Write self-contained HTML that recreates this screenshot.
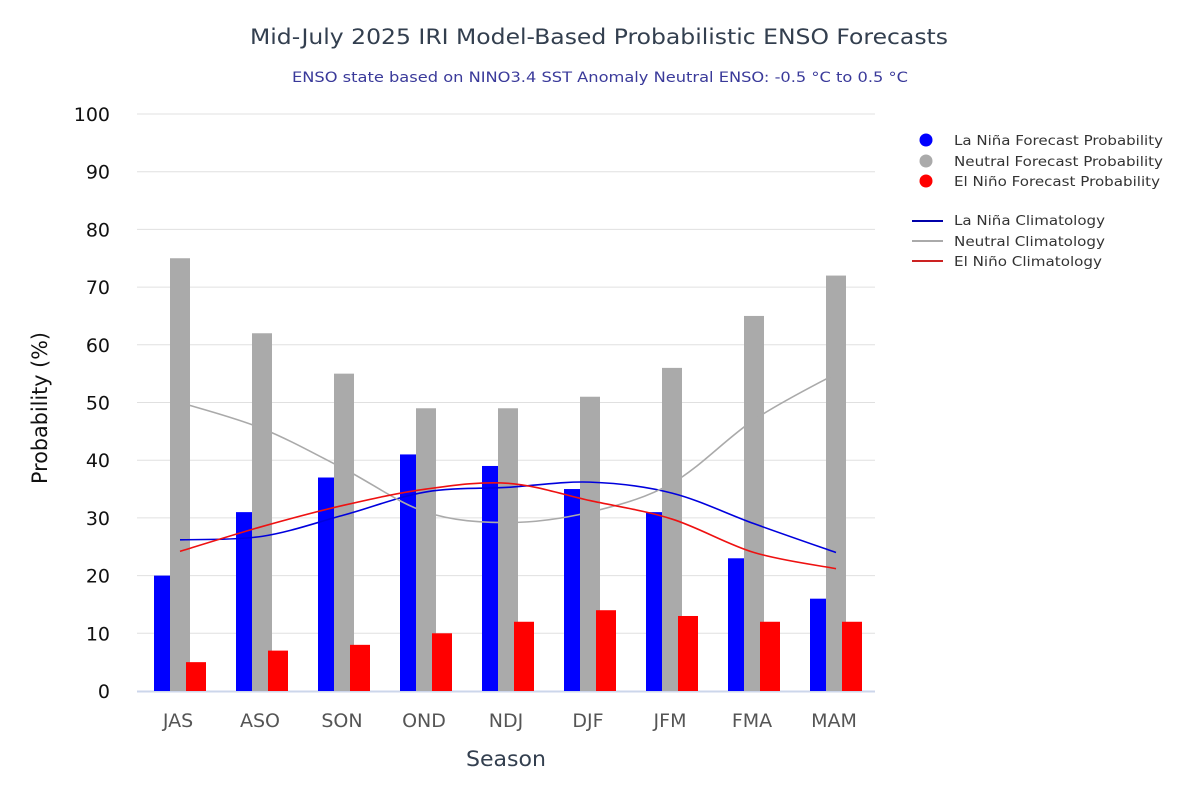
<!DOCTYPE html>
<html><head><meta charset="utf-8"><style>
body{margin:0;background:#fff;}
svg{display:block;font-family:"DejaVu Sans","Liberation Sans",sans-serif;}
</style></head><body>
<svg id="s" width="1200" height="800" viewBox="0 0 1200 800" xmlns="http://www.w3.org/2000/svg">
<rect width="1200" height="800" fill="#fff"/>
<text x="250" y="44" font-size="21" fill="#333f4f" textLength="698" lengthAdjust="spacingAndGlyphs">Mid-July 2025 IRI Model-Based Probabilistic ENSO Forecasts</text>
<text x="292" y="82" font-size="14" fill="#3a3a9a" textLength="616" lengthAdjust="spacingAndGlyphs">ENSO state based on NINO3.4 SST Anomaly Neutral ENSO: -0.5 °C to 0.5 °C</text>
<g id="grid"></g>
<g id="bars"></g>
<g id="lines"></g>
<text transform="translate(47,484) rotate(-90)" font-size="21" fill="#111" textLength="152" lengthAdjust="spacingAndGlyphs">Probability (%)</text>
<text x="466" y="766" font-size="21" fill="#333f4f" textLength="80" lengthAdjust="spacingAndGlyphs">Season</text>
<g font-size="13" fill="#333">
<circle cx="926" cy="140" r="6.5" fill="#0000ff"/><text x="954" y="145" textLength="209" lengthAdjust="spacingAndGlyphs">La Niña Forecast Probability</text>
<circle cx="926" cy="161" r="6.5" fill="#aaaaaa"/><text x="954" y="166" textLength="209" lengthAdjust="spacingAndGlyphs">Neutral Forecast Probability</text>
<circle cx="926" cy="181" r="6.5" fill="#ff0000"/><text x="954" y="186" textLength="206" lengthAdjust="spacingAndGlyphs">El Niño Forecast Probability</text>
<line x1="912" y1="221" x2="943" y2="221" stroke="#0000aa" stroke-width="2"/><text x="954" y="225" textLength="151" lengthAdjust="spacingAndGlyphs">La Niña Climatology</text>
<line x1="912" y1="241" x2="943" y2="241" stroke="#aaaaaa" stroke-width="2"/><text x="954" y="246" textLength="151" lengthAdjust="spacingAndGlyphs">Neutral Climatology</text>
<line x1="912" y1="261" x2="943" y2="261" stroke="#cc2222" stroke-width="2"/><text x="954" y="266" textLength="148" lengthAdjust="spacingAndGlyphs">El Niño Climatology</text>
</g>
</svg>
<script>
const NS="http://www.w3.org/2000/svg";
function el(p,t,a,txt){const e=document.createElementNS(NS,t);for(const k in a)e.setAttribute(k,a[k]);if(txt!=null)e.textContent=txt;p.appendChild(e);return e;}
const y0=691,sc=5.77,Y=v=>y0-v*sc;
const g=document.getElementById('grid');
for(let v=0;v<=100;v+=10){
  if(v>0)el(g,'line',{x1:137,x2:875,y1:Y(v),y2:Y(v),stroke:'#e0e0e0','stroke-width':1});
  el(g,'text',{x:110,y:Y(v)+7,'text-anchor':'end','font-size':19,fill:'#111'},String(v));
}
el(g,'line',{x1:137,x2:875,y1:691.5,y2:691.5,stroke:'#ccd6eb','stroke-width':2});
const S=['JAS','ASO','SON','OND','NDJ','DJF','JFM','FMA','MAM'];
const L=[20,31,37,41,39,35,31,23,16],N=[75,62,55,49,49,51,56,65,72],E=[5,7,8,10,12,14,13,12,12];
const b=document.getElementById('bars');
S.forEach((s,i)=>{const c=180+82*i;
  el(g,'text',{x:c-2,y:727,'text-anchor':'middle','font-size':19,fill:'#555'},s);
  [[L,'#0000ff',-26],[N,'#aaaaaa',-10],[E,'#ff0000',6]].forEach(([d,col,o])=>{
    el(b,'rect',{x:c+o,y:Y(d[i]),width:20,height:d[i]*sc,fill:col});});
});
const cl=[[[26.2,26.8,30.5,34.5,35.3,36.2,34.3,29,24],'#0000dd'],
[[50,45.5,38.5,31,29.2,31,36,47,55],'#aaaaaa'],
[[24.2,28.5,32.2,35,36,33,29.8,24,21.2],'#ee1111']];
const lg=document.getElementById('lines');
cl.forEach(([d,col])=>{const p=d.map((v,i)=>[180+82*i,Y(v)]);
  let s=`M${p[0][0]},${p[0][1]}`;
  for(let i=0;i<p.length-1;i++){const a=p[Math.max(0,i-1)],b1=p[i],c=p[i+1],e=p[Math.min(p.length-1,i+2)];
    const t=6;s+=` C${b1[0]+(c[0]-a[0])/t},${b1[1]+(c[1]-a[1])/t} ${c[0]-(e[0]-b1[0])/t},${c[1]-(e[1]-b1[1])/t} ${c[0]},${c[1]}`;}
  el(lg,'path',{d:s,fill:'none',stroke:col,'stroke-width':1.6});
});
</script>
</body></html>
